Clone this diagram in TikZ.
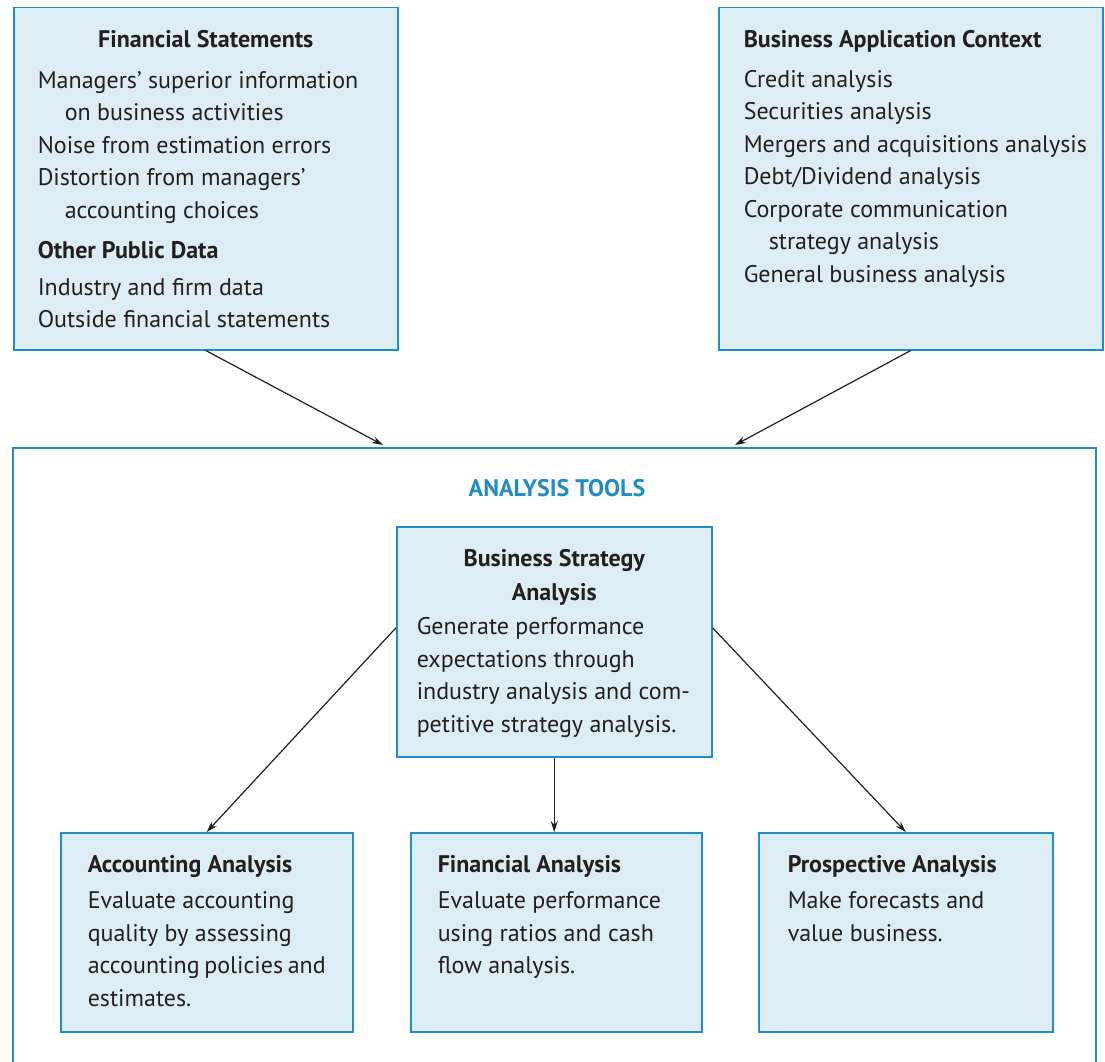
\documentclass[tikz,border=0pt]{standalone}
\usepackage{fontspec}
\setmainfont{PT Sans}
\usetikzlibrary{arrows.meta}

\definecolor{toolblue}{RGB}{34,140,195}
\definecolor{toolfill}{RGB}{221,237,246}
\definecolor{inkdark}{RGB}{35,31,32}

\newcommand{\boxfont}{\fontsize{24}{32.5}\selectfont}
\newcommand{\centhead}[1]{\makebox[\linewidth][c]{\bfseries #1}}

\tikzset{
  infobox/.style={draw=toolblue, fill=toolfill, line width=1.5pt, anchor=north west,
    inner ysep=17pt, text=inkdark, font=\boxfont},
  link/.style={->, line width=1.2pt, draw=inkdark}
}

\begin{document}
\begin{tikzpicture}[x=1pt, y=-1pt, >={Stealth[length=11pt, width=7pt]}]
\useasboundingbox (0,0) rectangle (1105,1062);

\node[infobox, inner xsep=24pt] (stmts) at (13,7) {\parbox[t][308pt][t]{336pt}{\strut\centhead{Financial Statements}\\[8.5pt]
  Managers' superior information\\\hspace*{27pt}on business activities\\
  Noise from estimation errors\\
  Distortion from managers'\\\hspace*{27pt}accounting choices\\[7.5pt]
  \textbf{Other Public Data}\\[4.5pt]
  Industry and firm data\\
  Outside financial statements}};

\node[infobox, inner xsep=25pt] (context) at (718,7) {\parbox[t][308pt][t]{334pt}{\strut\textbf{Business Application Context}\\[7.5pt]
  Credit analysis\\
  Securities analysis\\
  \makebox[334pt][l]{Mergers and acquisitions analysis}\\
  Debt/Dividend analysis\\
  Corporate communication\\\hspace*{25pt}strategy analysis\\
  General business analysis}};

\draw[line width=1.5pt, toolblue] (13,1075) -- (13,448) -- (1096,448) -- (1096,1075);
\coordinate (toolsL) at (383,445);
\coordinate (toolsR) at (735,445);
\node[text=toolblue, font=\boxfont\bfseries] (tools) at (557,488) {ANALYSIS TOOLS};

\draw[link] (stmts.south) -- (toolsL);
\draw[link] (context.south) -- (toolsR);

\node[infobox, inner xsep=20pt] (strategy) at (396,526) {\parbox[t][196pt][t]{275pt}{\strut\centhead{Business Strategy}\\[1.5pt]
  \centhead{Analysis}\\[1.5pt]
  Generate performance\\
  expectations through\\
  industry analysis and com-\\
  petitive strategy analysis.}};

\node[infobox, inner xsep=27pt] (acct) at (60,832) {\parbox[t][165pt][t]{238pt}{\strut\textbf{Accounting Analysis}\\[3.5pt]
  Evaluate accounting\\
  quality by assessing\\
  accounting policies and\\
  estimates.}};
\node[infobox, inner xsep=27pt] (fin) at (410,832) {\parbox[t][165pt][t]{237pt}{\strut\textbf{Financial Analysis}\\[3.5pt]
  Evaluate performance\\
  using ratios and cash\\
  flow analysis.}};
\node[infobox, inner xsep=29pt] (prosp) at (758,832) {\parbox[t][165pt][t]{236pt}{\strut\textbf{Prospective Analysis}\\[3.5pt]
  Make forecasts and\\
  value business.}};

\draw[link] ([yshift=14pt]strategy.west) -- (acct.north);
\draw[link] (strategy.south) -- (strategy.south |- fin.north);
\draw[link] ([yshift=14pt]strategy.east) -- (prosp.north);
\end{tikzpicture}
\end{document}
